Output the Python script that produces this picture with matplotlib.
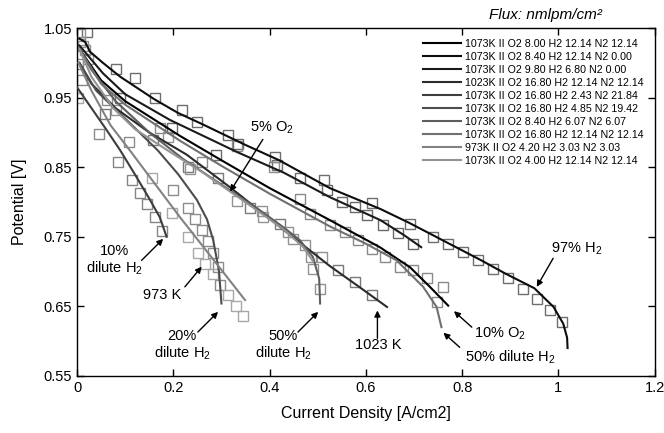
import matplotlib
matplotlib.use("Agg")
import matplotlib.pyplot as plt

plt.rcParams['font.family'] = ['Liberation Sans', 'DejaVu Sans']
plt.rcParams['mathtext.fontset'] = 'custom'
plt.rcParams['mathtext.rm'] = 'Liberation Sans'
plt.rcParams['mathtext.it'] = 'Liberation Sans:italic'

# legend labels (flux in nmlpm/cm2), darkest first
labels = [
    "1073K II O2 8.00 H2 12.14 N2 12.14",
    "1073K II O2 8.40 H2 12.14 N2 0.00",
    "1073K II O2 9.80 H2 6.80 N2 0.00",
    "1023K II O2 16.80 H2 12.14 N2 12.14",
    "1073K II O2 16.80 H2 2.43 N2 21.84",
    "1073K II O2 16.80 H2 4.85 N2 19.42",
    "1073K II O2 8.40 H2 6.07 N2 6.07",
    "1073K II O2 16.80 H2 12.14 N2 12.14",
    "973K II O2 4.20 H2 3.03 N2 3.03",
    "1073K II O2 4.00 H2 12.14 N2 12.14",
]
shades = ['#000000', '#0d0d0d', '#1a1a1a', '#2b2b2b', '#3d3d3d',
          '#4d4d4d', '#5e5e5e', '#707070', '#828282', '#949494']

# model curves, current density [A/cm2] vs potential [V]
# 10% O2
c1_x = [0.005, 0.05, 0.1, 0.214, 0.3, 0.4, 0.525, 0.629, 0.692, 0.733, 0.771]
c1_y = [1.02, 0.975, 0.945, 0.895, 0.86, 0.82, 0.774, 0.735, 0.706, 0.678, 0.651]
# 97% H2
c2_x = [0.005, 0.017, 0.027, 0.054, 0.09, 0.16, 0.21, 0.26, 0.35, 0.42, 0.525,
        0.63, 0.69, 0.74, 0.84, 0.89, 0.95, 0.99, 1.01, 1.018, 1.019]
c2_y = [1.035, 1.03, 1.016, 1.0, 0.98, 0.948, 0.928, 0.912, 0.882, 0.86, 0.82,
        0.79, 0.77, 0.752, 0.716, 0.697, 0.676, 0.649, 0.625, 0.605, 0.59]
# 97% H2, lower flux
c3_x = [0.005, 0.054, 0.1, 0.193, 0.332, 0.43, 0.525, 0.63, 0.68, 0.715]
c3_y = [1.025, 0.985, 0.955, 0.918, 0.872, 0.842, 0.807, 0.774, 0.752, 0.735]
# 1023 K
c4_x = [0.005, 0.03, 0.08, 0.15, 0.228, 0.32, 0.42, 0.525, 0.588, 0.644]
c4_y = [1.0, 0.97, 0.935, 0.9, 0.868, 0.82, 0.765, 0.708, 0.677, 0.649]
# 10% dilute H2
c5_x = [0.0, 0.03, 0.06, 0.09, 0.12, 0.15, 0.172, 0.186]
c5_y = [0.965, 0.935, 0.905, 0.874, 0.84, 0.805, 0.778, 0.75]
# 20% dilute H2
c6_x = [0.005, 0.04, 0.1, 0.168, 0.21, 0.249, 0.27, 0.283, 0.295, 0.3]
c6_y = [1.0, 0.96, 0.92, 0.874, 0.84, 0.803, 0.775, 0.745, 0.7, 0.654]
# 50% dilute H2 (left)
c7_x = [0.005, 0.03, 0.08, 0.15, 0.22, 0.3, 0.38, 0.43, 0.463, 0.49, 0.503, 0.505]
c7_y = [1.02, 0.99, 0.945, 0.9, 0.862, 0.825, 0.788, 0.763, 0.745, 0.721, 0.69, 0.654]
# 50% dilute H2 (right)
c8_x = [0.005, 0.05, 0.1, 0.214, 0.3, 0.4, 0.525, 0.6, 0.664, 0.719, 0.747, 0.757]
c8_y = [1.02, 0.97, 0.94, 0.888, 0.852, 0.812, 0.765, 0.74, 0.716, 0.678, 0.649, 0.62]
# 973 K
c9_x = [0.003, 0.03, 0.07, 0.11, 0.214, 0.28, 0.349]
c9_y = [1.0, 0.96, 0.91, 0.874, 0.778, 0.72, 0.659]
# 5% O2
c10_x = [0.005, 0.03, 0.075, 0.12, 0.193, 0.26, 0.318, 0.38, 0.43, 0.47, 0.49]
c10_y = [1.02, 0.98, 0.935, 0.905, 0.872, 0.843, 0.815, 0.785, 0.76, 0.735, 0.715]

curves = [(c1_x, c1_y), (c2_x, c2_y), (c3_x, c3_y), (c4_x, c4_y), (c5_x, c5_y),
          (c6_x, c6_y), (c7_x, c7_y), (c8_x, c8_y), (c9_x, c9_y), (c10_x, c10_y)]

# measured points (open squares)
sqA_x = [0.021, 0.082, 0.12, 0.163, 0.218, 0.249, 0.314, 0.412, 0.512, 0.612, 0.692,
         0.74, 0.771, 0.802, 0.833, 0.865, 0.896, 0.927, 0.955, 0.982, 1.007]
sqA_y = [1.044, 0.991, 0.978, 0.95, 0.933, 0.915, 0.897, 0.864, 0.831, 0.798, 0.769,
         0.75, 0.739, 0.728, 0.716, 0.703, 0.69, 0.675, 0.66, 0.644, 0.627]
sqB_x = [0.089, 0.197, 0.289, 0.335, 0.415, 0.463, 0.519, 0.55, 0.577, 0.602, 0.636, 0.667, 0.698]
sqB_y = [0.95, 0.907, 0.867, 0.884, 0.853, 0.834, 0.817, 0.80, 0.793, 0.781, 0.767, 0.755, 0.74]
sqC_x = [0.062, 0.172, 0.259, 0.333, 0.409, 0.463, 0.484, 0.525, 0.557, 0.584, 0.612,
         0.64, 0.671, 0.698, 0.726, 0.761, 0.747]
sqC_y = [0.947, 0.906, 0.858, 0.88, 0.85, 0.805, 0.783, 0.767, 0.757, 0.745, 0.733,
         0.721, 0.706, 0.702, 0.69, 0.678, 0.656]
sqD_x = [0.058, 0.158, 0.231, 0.293, 0.359, 0.422, 0.543, 0.577, 0.612]
sqD_y = [0.926, 0.889, 0.85, 0.834, 0.792, 0.769, 0.702, 0.685, 0.666]
sqF_x = [0.081, 0.19, 0.235, 0.332, 0.384, 0.387, 0.439, 0.449, 0.474, 0.487, 0.491, 0.508, 0.505]
sqF_y = [0.933, 0.894, 0.848, 0.802, 0.787, 0.779, 0.757, 0.747, 0.738, 0.721, 0.704, 0.721, 0.675]
sqG_x = [0.046, 0.107, 0.2, 0.231, 0.246, 0.26, 0.273, 0.283, 0.293, 0.298]
sqG_y = [0.898, 0.886, 0.817, 0.792, 0.775, 0.76, 0.744, 0.727, 0.707, 0.681]
sqH_x = [0.003, 0.155, 0.198, 0.23, 0.252, 0.266, 0.283, 0.314, 0.33, 0.345]
sqH_y = [0.949, 0.834, 0.784, 0.749, 0.727, 0.711, 0.697, 0.666, 0.651, 0.636]
sqI_x = [0.003, 0.01, 0.086, 0.114, 0.131, 0.146, 0.162, 0.176]
sqI_y = [0.999, 0.976, 0.858, 0.831, 0.813, 0.797, 0.778, 0.759]
sqT_x = [0.006, 0.006, 0.017, 0.023, 0.012]
sqT_y = [1.042, 1.03, 1.018, 1.006, 1.025]

squares = [(sqA_x, sqA_y, '#6e6e6e'), (sqB_x, sqB_y, '#6a6a6a'), (sqC_x, sqC_y, '#8a8a8a'),
           (sqD_x, sqD_y, '#7a7a7a'), (sqF_x, sqF_y, '#929292'), (sqG_x, sqG_y, '#8c8c8c'),
           (sqH_x, sqH_y, '#a8a8a8'), (sqI_x, sqI_y, '#858585'), (sqT_x, sqT_y, '#909090')]

fig = plt.figure(figsize=(6.64, 4.33), dpi=100)
ax = fig.add_axes([0.116, 0.132, 0.87, 0.803])

for (sx, sy, col) in squares:
    ax.plot(sx, sy, linestyle='none', marker='s', markersize=6.5, markerfacecolor='none',
            markeredgecolor=col, markeredgewidth=1.0, zorder=2)

for (cx, cy), lab, col in zip(curves, labels, shades):
    ax.plot(cx, cy, color=col, lw=1.5, label=lab, zorder=3)

ax.set_xlim(0, 1.2)
ax.set_ylim(0.55, 1.05)
ax.set_xticks([0, 0.2, 0.4, 0.6, 0.8, 1.0, 1.2])
ax.set_xticklabels(['0', '0.2', '0.4', '0.6', '0.8', '1', '1.2'])
ax.set_yticks([0.55, 0.65, 0.75, 0.85, 0.95, 1.05])
ax.set_yticklabels(['0.55', '0.65', '0.75', '0.85', '0.95', '1.05'])
ax.tick_params(direction='in', top=True, right=True, labelsize=10.5, length=5, width=1)
for s in ax.spines.values():
    s.set_linewidth(1.0)
ax.set_xlabel("Current Density [A/cm2]", fontsize=11.5, labelpad=8)
ax.set_ylabel("Potential [V]", fontsize=11.5, labelpad=12)

leg = ax.legend(loc='upper right', frameon=False, fontsize=7.7, handlelength=3.6,
                handletextpad=0.4, labelspacing=0.28, borderaxespad=0.6)

fig.text(0.822, 0.965, "Flux: nmlpm/cm²", fontsize=11, style='italic', ha='center', va='center')

# annotations
arr = dict(arrowstyle='-|>', color='black', lw=1.0, mutation_scale=9, shrinkA=0, shrinkB=0)
ax.annotate('', xy=(0.318, 0.815), xytext=(0.386, 0.89), arrowprops=arr)
ax.text(0.405, 0.906, "5% O$_2$", fontsize=10.5, ha='center', va='center')
ax.annotate('', xy=(0.955, 0.678), xytext=(0.989, 0.719), arrowprops=arr)
ax.text(1.038, 0.733, "97% H$_2$", fontsize=10.5, ha='center', va='center')
ax.annotate('', xy=(0.783, 0.643), xytext=(0.82, 0.62), arrowprops=arr)
ax.text(0.879, 0.611, "10% O$_2$", fontsize=10.5, ha='center', va='center')
ax.annotate('', xy=(0.761, 0.612), xytext=(0.795, 0.591), arrowprops=arr)
ax.text(0.90, 0.577, "50% dilute H$_2$", fontsize=10.5, ha='center', va='center')
ax.annotate('', xy=(0.624, 0.644), xytext=(0.624, 0.604), arrowprops=arr)
ax.text(0.626, 0.594, "1023 K", fontsize=10.5, ha='center', va='center')
ax.annotate('', xy=(0.501, 0.642), xytext=(0.459, 0.613), arrowprops=arr)
ax.text(0.428, 0.608, "50%", fontsize=10.5, ha='center', va='center')
ax.text(0.428, 0.582, "dilute H$_2$", fontsize=10.5, ha='center', va='center')
ax.annotate('', xy=(0.293, 0.642), xytext=(0.251, 0.613), arrowprops=arr)
ax.text(0.218, 0.608, "20%", fontsize=10.5, ha='center', va='center')
ax.text(0.218, 0.582, "dilute H$_2$", fontsize=10.5, ha='center', va='center')
ax.annotate('', xy=(0.259, 0.707), xytext=(0.224, 0.678), arrowprops=arr)
ax.text(0.177, 0.666, "973 K", fontsize=10.5, ha='center', va='center')
ax.annotate('', xy=(0.179, 0.747), xytext=(0.134, 0.716), arrowprops=arr)
ax.text(0.077, 0.73, "10%", fontsize=10.5, ha='center', va='center')
ax.text(0.077, 0.705, "dilute H$_2$", fontsize=10.5, ha='center', va='center')

fig.savefig("out.png", dpi=100)
